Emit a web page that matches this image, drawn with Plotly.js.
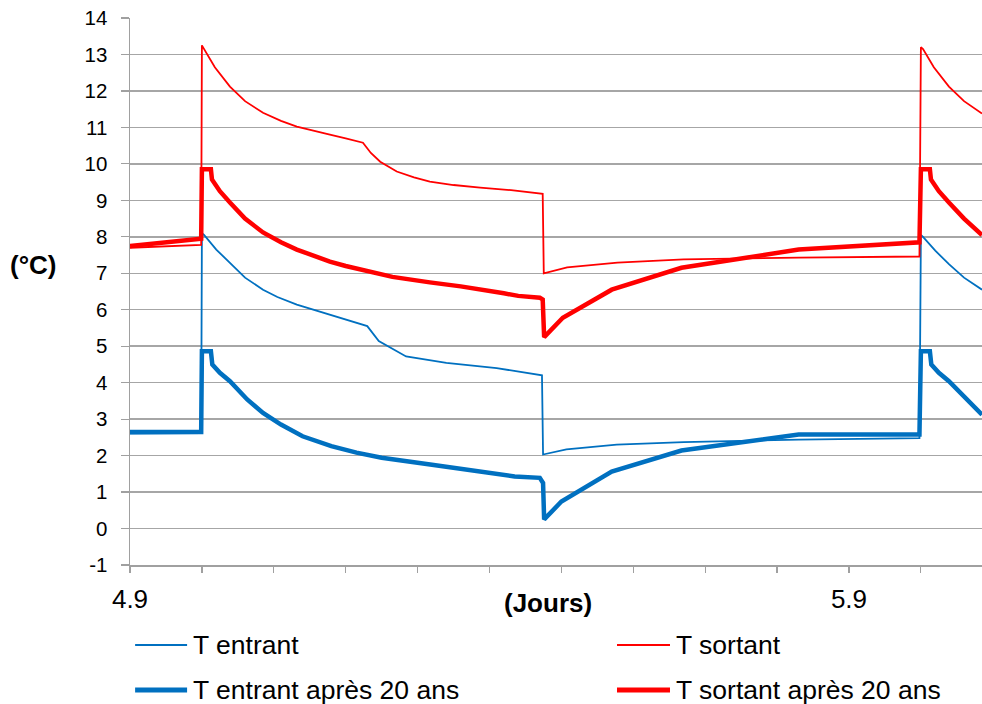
<!DOCTYPE html>
<html>
<head>
<meta charset="utf-8">
<script src="https://cdn.plot.ly/plotly-3.0.1.min.js"></script>
<style>html,body{margin:0;padding:0;background:#fff;}#chart{width:982px;height:704px;}</style>
</head>
<body>
<div id="chart"></div>
<script>
// Time in days
const xEntrant = [4.9, 4.999, 5.0, 5.003, 5.02, 5.039, 5.06, 5.085, 5.105, 5.132, 5.155, 5.178, 5.2, 5.224, 5.23, 5.246, 5.284, 5.34, 5.41, 5.473, 5.4745, 5.507, 5.577, 5.67, 5.83, 5.998, 6.0, 6.003, 6.02, 6.039, 6.06, 6.085];
const yEntrant = [2.6, 2.62, 8.1, 8.05, 7.65, 7.28, 6.88, 6.55, 6.35, 6.14, 6.0, 5.87, 5.73, 5.59, 5.55, 5.14, 4.72, 4.54, 4.40, 4.2, 2.03, 2.17, 2.3, 2.37, 2.44, 2.48, 8.05, 8.0, 7.62, 7.25, 6.88, 6.55];

const xSortant = [4.9, 4.999, 5.0, 5.003, 5.018, 5.039, 5.06, 5.085, 5.11, 5.132, 5.155, 5.178, 5.2, 5.224, 5.235, 5.248, 5.271, 5.295, 5.317, 5.35, 5.387, 5.43, 5.474, 5.4755, 5.508, 5.578, 5.67, 5.83, 5.998, 6.0, 6.003, 6.018, 6.039, 6.06, 6.085];
const ySortant = [7.70, 7.78, 13.25, 13.15, 12.65, 12.12, 11.72, 11.4, 11.18, 11.02, 10.9, 10.8, 10.7, 10.58, 10.3, 10.06, 9.79, 9.63, 9.51, 9.42, 9.35, 9.28, 9.18, 7.0, 7.16, 7.29, 7.38, 7.43, 7.46, 13.2, 13.15, 12.65, 12.12, 11.72, 11.38];

const xEntrant20 = [4.9, 4.999, 5.0, 5.0125, 5.0145, 5.025, 5.039, 5.063, 5.085, 5.11, 5.14, 5.18, 5.215, 5.25, 5.32, 5.365, 5.435, 5.47, 5.4745, 5.476, 5.5, 5.57, 5.667, 5.83, 5.998, 6.0, 6.0125, 6.0145, 6.025, 6.039, 6.063, 6.085];
const yEntrant20 = [2.65, 2.65, 4.86, 4.86, 4.5, 4.27, 4.04, 3.54, 3.17, 2.85, 2.53, 2.26, 2.08, 1.94, 1.75, 1.62, 1.43, 1.39, 1.25, 0.25, 0.74, 1.56, 2.14, 2.58, 2.58, 4.86, 4.86, 4.5, 4.27, 4.04, 3.54, 3.12];

const xSortant20 = [4.9, 4.999, 5.0, 5.0125, 5.014, 5.025, 5.039, 5.06, 5.085, 5.11, 5.132, 5.155, 5.178, 5.2, 5.224, 5.265, 5.317, 5.36, 5.42, 5.44, 5.47, 5.474, 5.476, 5.502, 5.57, 5.667, 5.83, 5.998, 6.0, 6.0125, 6.014, 6.025, 6.039, 6.06, 6.085];
const ySortant20 = [7.75, 7.95, 9.85, 9.85, 9.57, 9.25, 8.94, 8.5, 8.12, 7.85, 7.65, 7.47, 7.32, 7.2, 7.1, 6.9, 6.75, 6.64, 6.45, 6.38, 6.33, 6.28, 5.25, 5.78, 6.55, 7.15, 7.65, 7.85, 9.85, 9.85, 9.57, 9.25, 8.94, 8.5, 8.05];

const seriesNames = ['T entrant', 'T sortant', 'T entrant après 20 ans', 'T sortant après 20 ans'];

const xTickVals = [4.9, 5.0, 5.1, 5.2, 5.3, 5.4, 5.5, 5.6, 5.7, 5.8, 5.9, 6.0];
const xTickText = ['4.9', '', '', '', '', '', '', '', '', '', '5.9', ''];
const yTickVals = [-1, 0, 1, 2, 3, 4, 5, 6, 7, 8, 9, 10, 11, 12, 13, 14];
const yTickText = ['-1', '0', '1', '2', '3', '4', '5', '6', '7', '8', '9', '10', '11', '12', '13', '14'];

const BLUE = '#0070C0', RED = '#FF0000';
const FONT = 'Liberation Sans, Arial, sans-serif';
const colors = [BLUE, RED, BLUE, RED];
const widths = [1.8, 1.8, 4.5, 4.5];
const xs = [xEntrant, xSortant, xEntrant20, xSortant20];
const ys = [yEntrant, ySortant, yEntrant20, ySortant20];

const traces = seriesNames.map((n, i) => ({
  x: xs[i], y: ys[i], name: n, mode: 'lines', line: {color: colors[i], width: widths[i]}
}));

// Manual two-column legend (paper coordinates, below the plot)
const legCols = [{x0: 0.006, x1: 0.067, xt: 0.0715}, {x0: 0.5716, x1: 0.6338, xt: 0.6385}];
const legRows = [-0.1462, -0.2285];
const shapes = [], annotations = [];
seriesNames.forEach((n, i) => {
  const c = legCols[i % 2], r = legRows[Math.floor(i / 2)];
  shapes.push({type: 'line', xref: 'paper', yref: 'paper', x0: c.x0, x1: c.x1, y0: r, y1: r,
    line: {color: colors[i], width: widths[i] + 0.3}});
  annotations.push({text: n, xref: 'paper', yref: 'paper', x: c.xt, y: r, xanchor: 'left', yanchor: 'middle',
    showarrow: false, font: {family: FONT, size: 26.5, color: '#000'}});
});
annotations.push({text: '<b>(°C)</b>', xref: 'paper', yref: 'paper', x: -0.1127, y: 0.548, xanchor: 'center', yanchor: 'middle', showarrow: false, font: {family: FONT, size: 26, color: '#000'}});
annotations.push({text: '<b>(Jours)</b>', xref: 'paper', yref: 'paper', x: 0.4906, y: -0.0695, xanchor: 'center', yanchor: 'middle', showarrow: false, font: {family: FONT, size: 26, color: '#000'}});

const layout = {
  width: 982, height: 704,
  margin: {l: 130, r: 0, t: 18, b: 139},
  paper_bgcolor: '#fff', plot_bgcolor: '#fff',
  font: {family: FONT, color: '#000', size: 20},
  showlegend: false,
  xaxis: {
    range: [4.9, 6.085], tickmode: 'array', tickvals: xTickVals, ticktext: xTickText,
    ticks: 'outside', ticklen: 6, tickwidth: 1.2, tickcolor: '#a0a0a0',
    showgrid: false, zeroline: false, showline: true, linecolor: '#a0a0a0', linewidth: 1.5,
    tickfont: {family: FONT, size: 26, color: '#000'}, ticklabelstandoff: 4
  },
  yaxis: {
    range: [-1, 14], tickmode: 'array', tickvals: yTickVals, ticktext: yTickText,
    ticks: 'outside', ticklen: 8, tickwidth: 1.2, tickcolor: '#a0a0a0',
    showgrid: true, gridcolor: '#a6a6a6', gridwidth: 1.5, zeroline: false,
    showline: true, linecolor: '#a0a0a0', linewidth: 1.5,
    tickfont: {family: FONT, size: 20.5, color: '#000'}, ticklabelstandoff: 9
  },
  shapes: shapes,
  annotations: annotations
};

Plotly.newPlot('chart', traces, layout, {displayModeBar: false, staticPlot: true});
</script>
</body>
</html>
